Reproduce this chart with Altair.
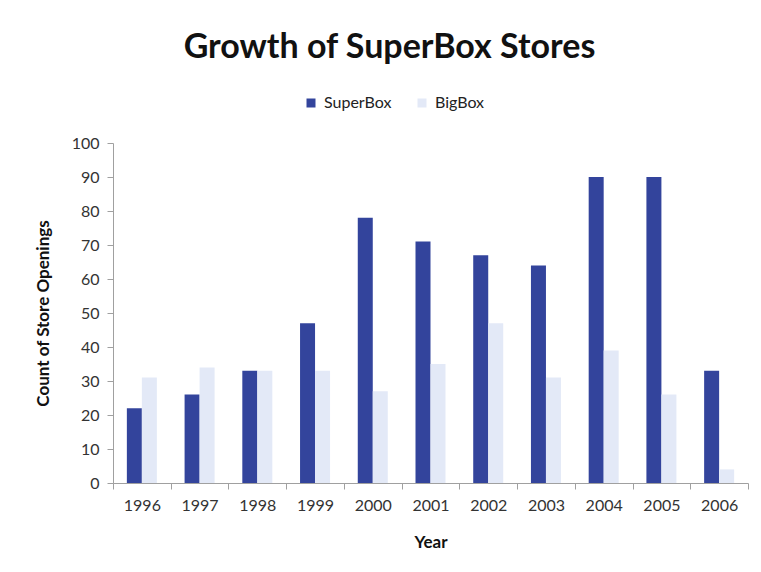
import altair as alt
import pandas as pd

years = ["1996", "1997", "1998", "1999", "2000", "2001", "2002", "2003", "2004", "2005", "2006"]
series = ["SuperBox", "BigBox"]
superbox = [22, 26, 33, 47, 78, 71, 67, 64, 90, 90, 33]
bigbox = [31, 34, 33, 33, 27, 35, 47, 31, 39, 26, 4]
colors = ["#33449C", "#E3E9F7"]
y_ticks = list(range(0, 101, 10))

rows = []
for i, yr in enumerate(years):
    rows.append({"Year": yr, "Series": "SuperBox", "Count": superbox[i]})
    rows.append({"Year": yr, "Series": "BigBox", "Count": bigbox[i]})
df = pd.DataFrame(rows)

FONT = "Lato"

chart = alt.Chart(df).mark_bar().encode(
    x=alt.X(
        "Year:N",
        sort=years,
        scale=alt.Scale(paddingInner=0, paddingOuter=0),
        axis=alt.Axis(
            title="Year",
            tickBand="extent",
            labelAngle=0,
            labelFont=FONT,
            labelFontSize=16,
            labelColor="#333333",
            labelPadding=8,
            tickSize=6,
            tickColor="#A0A0A0",
            domainColor="#A0A0A0",
            titleFont=FONT,
            titleFontSize=17,
            titleFontWeight="bold",
            titleColor="#111111",
            titleX=317.5,
            titleY=59,
            titleBaseline="middle",
            titleAlign="center",
        ),
    ),
    xOffset=alt.XOffset(
        "Series:N",
        sort=series,
        scale=alt.Scale(paddingInner=0, paddingOuter=0.924),
    ),
    y=alt.Y(
        "Count:Q",
        scale=alt.Scale(domain=[0, 100], nice=False),
        axis=alt.Axis(
            title="Count of Store Openings",
            values=y_ticks,
            grid=False,
            labelFont=FONT,
            labelFontSize=16,
            labelColor="#333333",
            labelPadding=8,
            tickSize=6,
            tickColor="#A0A0A0",
            domainColor="#A0A0A0",
            titleFont=FONT,
            titleFontSize=17,
            titleFontWeight="bold",
            titleColor="#111111",
            titleX=-70,
            titleY=170,
            titleAngle=270,
            titleBaseline="middle",
            titleAlign="center",
        ),
    ),
    color=alt.Color(
        "Series:N",
        sort=series,
        scale=alt.Scale(domain=series, range=colors),
        legend=alt.Legend(
            orient="none",
            legendX=190,
            legendY=-48,
            direction="horizontal",
            title=None,
            symbolType="square",
            symbolSize=81,
            symbolStrokeWidth=0,
            labelFont=FONT,
            labelFontSize=16,
            labelColor="#222222",
            labelOffset=5,
            columnPadding=22,
        ),
    ),
).properties(
    width=635,
    height=340,
    title=alt.TitleParams(
        "Growth of SuperBox Stores",
        font=FONT,
        fontSize=34,
        fontWeight="bold",
        color="#111111",
        anchor="middle",
        frame="group",
        baseline="alphabetic",
        offset=3,
        dx=-41,
    ),
    padding={"left": 105, "top": 135, "right": 5, "bottom": 81},
    autosize=alt.AutoSizeParams(type="none"),
).configure(background="white").configure_view(stroke=None)

chart.save("out.html", embed_options={"renderer": "svg", "actions": False})
